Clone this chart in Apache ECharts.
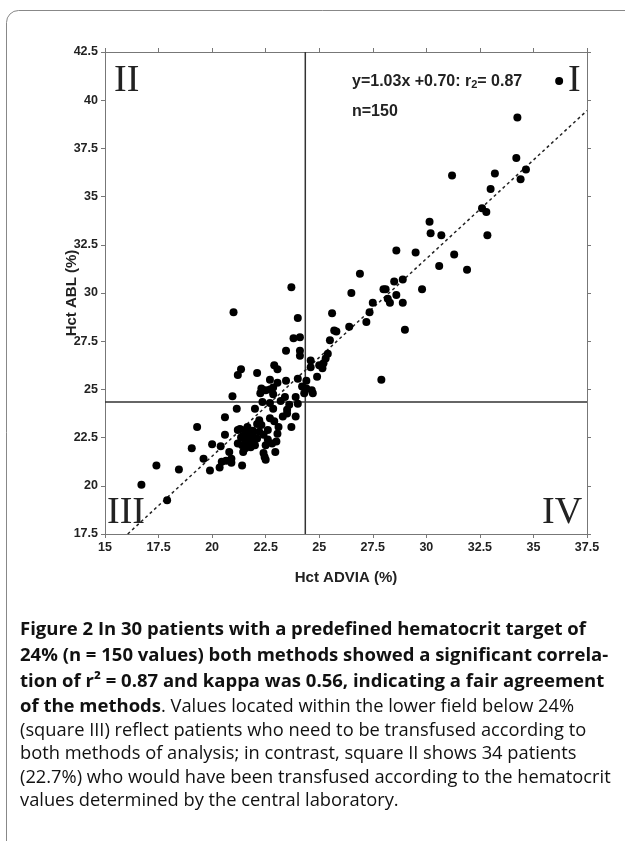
<!DOCTYPE html>
<html>
<head>
<meta charset="utf-8">
<script src="https://cdn.jsdelivr.net/npm/echarts@6/dist/echarts.min.js"></script>
<style>
html, body { margin: 0; padding: 0; background: #fff; }
#chart { width: 625px; height: 841px; }
</style>
</head>
<body>
<div id="chart"></div>
<script>
// Hct ADVIA (x) vs Hct ABL (y), n = 150
const advia = [
  36.2, 34.25, 34.2, 31.2, 33.2, 34.65, 34.4, 33.0, 32.6, 32.8,
  30.15, 30.2, 30.7, 32.85, 31.3, 30.6, 31.9, 29.5, 28.6, 29.8,
  26.9, 28.9, 28.5, 28.0, 28.1, 26.5, 28.6, 28.2, 28.3, 28.9,
  27.5, 27.35, 27.2, 29.0, 25.6, 26.4, 25.7, 25.8, 25.5, 25.4,
  25.3, 24.6, 24.6, 25.0, 25.15, 25.2, 24.9, 27.9,
  24.4, 24.2, 24.4, 24.65, 24.3, 24.7, 24.0,
  23.8, 24.1, 23.45, 24.1, 24.1, 23.7, 24.0, 21.0, 21.35, 21.2,
  22.1, 22.9, 23.05, 22.7, 23.05, 23.45, 22.3, 22.25, 22.7, 22.85,
  22.85, 22.5, 23.4, 23.9, 20.95, 22.35, 23.2, 24.0,
  21.15, 22.0, 22.85, 23.5, 23.5, 20.6, 22.7, 22.9, 23.9, 23.3,
  19.3, 20.6, 21.2, 21.65, 22.1, 22.3, 22.2, 22.4, 23.1, 23.7, 23.05,
  21.6, 21.45, 21.7, 21.55, 21.3, 21.9, 22.1, 22.6, 22.8, 21.4,
  21.55, 21.8, 21.45, 22.4, 22.95, 22.45, 22.5, 23.0, 22.5,
  20.0, 20.4, 19.05, 19.6, 20.45, 20.65, 21.4, 17.4, 18.45, 19.9,
  20.35, 20.8, 20.9, 20.9, 16.7, 17.9,
  21.2, 21.9, 22.2, 21.8, 22.0, 22.6, 21.35, 22.7, 21.65, 23.6, 21.9
];
const abl = [
  41.0, 39.1, 37.0, 36.1, 36.2, 36.4, 35.9, 35.4, 34.4, 34.2,
  33.7, 33.1, 33.0, 33.0, 32.0, 31.4, 31.2, 32.1, 32.2, 30.2,
  31.0, 30.7, 30.6, 30.2, 30.2, 30.0, 29.9, 29.7, 29.5, 29.5,
  29.5, 29.0, 28.5, 28.1, 28.95, 28.25, 28.05, 28.0, 27.55, 26.85,
  26.6, 26.5, 26.15, 26.25, 26.1, 26.35, 25.65, 25.5,
  25.45, 25.15, 25.05, 24.95, 24.8, 24.8, 25.55,
  27.65, 27.7, 27.0, 27.0, 26.75, 30.3, 28.7, 29.0, 26.05, 25.75,
  25.85, 26.25, 26.05, 25.5, 25.35, 25.45, 25.05, 24.8, 25.0, 24.75,
  25.1, 24.95, 24.6, 24.6, 24.65, 24.35, 24.4, 24.25,
  24.0, 24.0, 24.0, 23.95, 23.75, 23.55, 23.5, 23.35, 23.6, 23.6,
  23.05, 22.65, 22.9, 23.05, 23.2, 23.15, 22.8, 22.65, 23.05, 23.05, 22.7,
  22.9, 22.6, 22.55, 22.3, 22.95, 22.4, 22.45, 22.4, 22.2, 22.1,
  21.95, 22.0, 21.75, 21.7, 21.75, 21.5, 21.35, 22.3, 22.1,
  22.15, 22.05, 21.95, 21.4, 21.25, 21.3, 21.05, 21.05, 20.85, 20.8,
  20.95, 21.75, 21.2, 21.4, 20.05, 19.25,
  22.2, 22.7, 23.4, 22.25, 22.1, 22.9, 22.5, 24.3, 22.35, 24.2, 22.85
];

// axis ranges and quadrant cut-offs (24% target)
const xRange = [15, 37.5];
const yRange = [17.5, 42.5];
const tickStep = 2.5;
const cutAdvia = 24.35;
const cutAbl = 24.35;
// dotted regression line, end points as drawn
const fitX = [16.06, 37.5];
const fitY = [17.5, 39.46];

const points = advia.map((x, i) => [x, abl[i]]);

const labelFont = 'Liberation Sans, Arial, sans-serif';
const captionFont = 'Open Sans, Noto Sans, sans-serif';

function makeX(pos, showLabels) {
  return {
    type: 'value', position: pos,
    min: xRange[0], max: xRange[1], interval: tickStep,
    axisLine: { onZero: false, lineStyle: { color: '#777', width: 1 } },
    axisTick: { show: true, inside: false, length: 4, lineStyle: { color: '#777' } },
    axisLabel: {
      show: showLabels, color: '#222', fontWeight: 'bold', fontSize: 12.5,
      fontFamily: labelFont, margin: 7, showMinLabel: true, showMaxLabel: true
    },
    splitLine: { show: false }
  };
}
function makeY(pos, showLabels) {
  return {
    type: 'value', position: pos,
    min: yRange[0], max: yRange[1], interval: tickStep,
    axisLine: { onZero: false, lineStyle: { color: '#777', width: 1 } },
    axisTick: { show: true, inside: false, length: 4, lineStyle: { color: '#777' } },
    axisLabel: {
      show: showLabels, color: '#222', fontWeight: 'bold', fontSize: 12.5,
      fontFamily: labelFont, margin: 7, showMinLabel: true, showMaxLabel: true
    },
    splitLine: { show: false }
  };
}

const xBottom = makeX('bottom', true);
xBottom.name = 'Hct ADVIA (%)';
xBottom.nameLocation = 'middle';
xBottom.nameGap = 36;
xBottom.nameMoveOverlap = false;
xBottom.nameTextStyle = { color: '#222', fontWeight: 'bold', fontSize: 15, fontFamily: labelFont };
const yLeft = makeY('left', true);
yLeft.name = 'Hct ABL (%)';
yLeft.nameLocation = 'middle';
yLeft.nameGap = 26;
yLeft.nameMoveOverlap = false;
yLeft.nameTextStyle = { color: '#222', fontWeight: 'bold', fontSize: 15, fontFamily: labelFont };

const romanStyle = { font: '38px "Liberation Serif", "Times New Roman", serif', fill: '#222' };

const chart = echarts.init(document.getElementById('chart'), null, { renderer: 'canvas' });
chart.setOption({
  backgroundColor: '#fff',
  animation: false,
  grid: { left: 105, top: 52, width: 482, height: 482 },
  xAxis: [xBottom, makeX('top', false)],
  yAxis: [yLeft, makeY('right', false)],
  series: [
    {
      type: 'line', data: [[cutAdvia, yRange[0]], [cutAdvia, yRange[1]]],
      symbol: 'none', silent: true, z: 2,
      lineStyle: { color: '#333', width: 1.5 }
    },
    {
      type: 'line', data: [[xRange[0], cutAbl], [xRange[1], cutAbl]],
      symbol: 'none', silent: true, z: 2,
      lineStyle: { color: '#333', width: 1.5 }
    },
    {
      type: 'line', data: [[fitX[0], fitY[0]], [fitX[1], fitY[1]]],
      symbol: 'none', silent: true, z: 2,
      lineStyle: { color: '#222', width: 1.5, type: [3, 3] }
    },
    {
      type: 'scatter', data: points, symbol: 'circle', symbolSize: 8, z: 5,
      itemStyle: { color: '#000', opacity: 1 }
    }
  ],
  graphic: [
    { type: 'rect', shape: { x: 6.5, y: 10.5, width: 640, height: 850, r: 12 },
      style: { fill: 'none', stroke: '#888', lineWidth: 1 }, z: -1 },
    { type: 'text', x: 114, y: 62, style: Object.assign({ text: 'II' }, romanStyle) },
    { type: 'text', x: 568, y: 62, style: Object.assign({ text: 'I' }, romanStyle) },
    { type: 'text', x: 107, y: 494, style: Object.assign({ text: 'III' }, romanStyle) },
    { type: 'text', x: 542, y: 494, style: Object.assign({ text: 'IV' }, romanStyle) },
    { type: 'text', x: 352, y: 81, style: {
        text: '{b|y=1.03x +0.70: r}{s|2}{b|= 0.87}', verticalAlign: 'middle',
        rich: {
          b: { font: 'bold 16px ' + labelFont, fill: '#222', verticalAlign: 'bottom', lineHeight: 18 },
          s: { font: 'bold 11px ' + labelFont, fill: '#222', verticalAlign: 'bottom', lineHeight: 18 }
        } } },
    { type: 'text', x: 352, y: 112, style: {
        text: 'n=150', font: 'bold 16px ' + labelFont, fill: '#222', verticalAlign: 'middle' } },
    // caption
    { type: 'text', x: 20, y: 630, style: { text: 'Figure 2 In 30 patients with a predefined hematocrit target of',
        font: 'bold 18.5px ' + captionFont, fill: '#111', verticalAlign: 'middle' } },
    { type: 'text', x: 20, y: 656, style: { text: '24% (n = 150 values) both methods showed a significant correla-',
        font: 'bold 18.5px ' + captionFont, fill: '#111', verticalAlign: 'middle' } },
    { type: 'text', x: 20, y: 682, style: { text: 'tion of r\u00b2 = 0.87 and kappa was 0.56, indicating a fair agreement',
        font: 'bold 18.5px ' + captionFont, fill: '#111', verticalAlign: 'middle' } },
    { type: 'text', x: 20, y: 707, style: {
        text: '{b|of the methods}{n|. Values located within the lower field below 24%}', verticalAlign: 'middle',
        rich: {
          b: { font: 'bold 18.5px ' + captionFont, fill: '#111' },
          n: { font: '18.3px ' + captionFont, fill: '#111' }
        } } },
    { type: 'text', x: 20, y: 731, style: { text: '(square III) reflect patients who need to be transfused according to',
        font: '18.3px ' + captionFont, fill: '#111', verticalAlign: 'middle' } },
    { type: 'text', x: 20, y: 754, style: { text: 'both methods of analysis; in contrast, square II shows 34 patients',
        font: '18.3px ' + captionFont, fill: '#111', verticalAlign: 'middle' } },
    { type: 'text', x: 20, y: 778, style: { text: '(22.7%) who would have been transfused according to the hematocrit',
        font: '18.3px ' + captionFont, fill: '#111', verticalAlign: 'middle' } },
    { type: 'text', x: 20, y: 801, style: { text: 'values determined by the central laboratory.',
        font: '18.3px ' + captionFont, fill: '#111', verticalAlign: 'middle' } }
  ]
});
</script>
</body>
</html>
